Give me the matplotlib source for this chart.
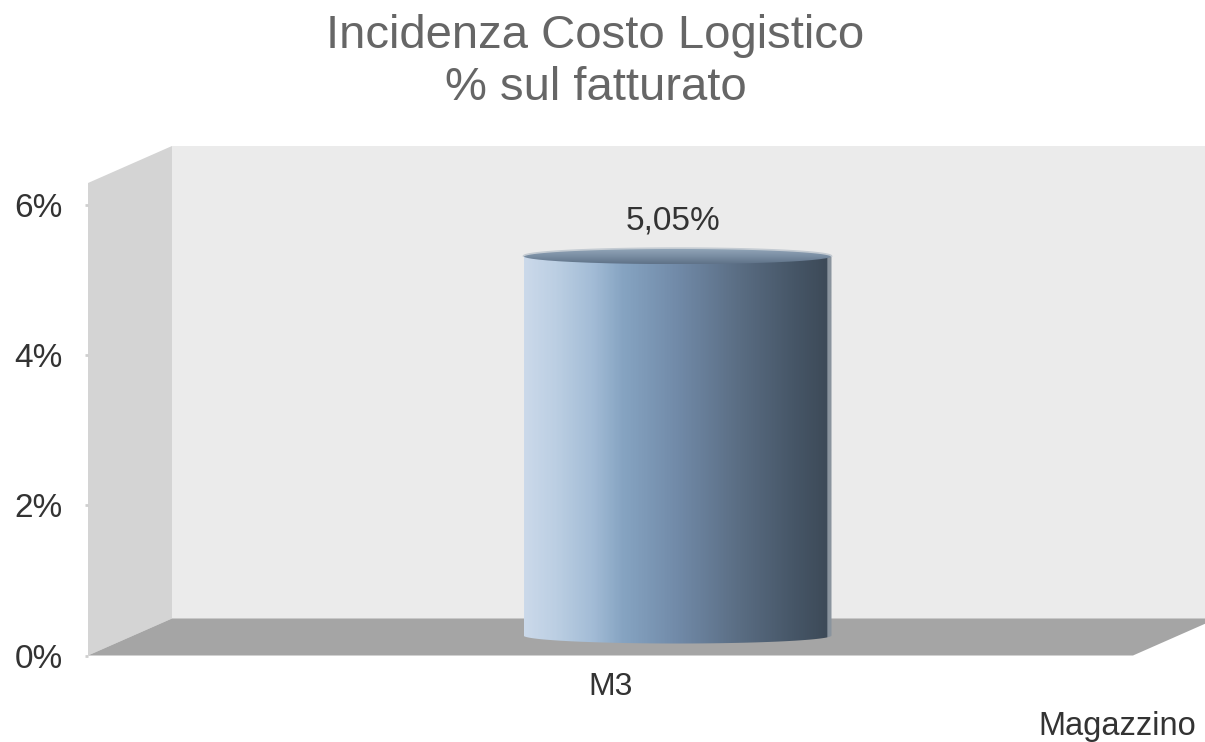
import numpy as np
import matplotlib
matplotlib.use("Agg")
import matplotlib.pyplot as plt
from matplotlib.colors import LinearSegmentedColormap
from matplotlib.patches import PathPatch, Polygon
from matplotlib.path import Path
from matplotlib.transforms import Affine2D

title = "Incidenza Costo Logistico\n% sul fatturato"
categories = ["M3"]
values = [5.05]
value_labels = ["5,05%"]
y_ticks = [0, 2, 4, 6]
y_tick_labels = ["0%", "2%", "4%", "6%"]
x_title = "Magazzino"

W, H = 1205, 742
plt.rcParams["font.family"] = ["Liberation Sans", "DejaVu Sans"]
fig = plt.figure(figsize=(W / 100, H / 100), dpi=100, facecolor="white")
ax = fig.add_axes([88 / W, 1 - 655.5 / H, 1045 / W, 472.5 / H])
ax.set_xlim(-0.5, 0.5)
ax.set_ylim(0, 6.29)
for s in ax.spines.values():
    s.set_visible(False)
ax.patch.set_visible(False)

back = ax.transData + Affine2D().translate(84, 37)
bar_plane = ax.transData + Affine2D().translate(67, 20)
ymax = 6.29
ax.add_patch(Polygon([(-0.5, 0), (0.5, 0), (0.5, ymax), (-0.5, ymax)], transform=back,
                     fc="#ebebeb", ec="none", clip_on=False, zorder=1))
# left wall and floor join the front plane to the back plane
p = lambda x, y, t: t.transform((x, y))
pix = Affine2D()  # identity: pixel space
ax.add_patch(Polygon([p(-0.5, 0, ax.transData), p(-0.5, ymax, ax.transData),
                      p(-0.5, ymax, back), p(-0.5, 0, back)], transform=pix,
                     fc="#d4d4d4", ec="none", clip_on=False, zorder=1))
ax.add_patch(Polygon([p(-0.5, 0, ax.transData), p(0.5, 0, ax.transData),
                      p(0.5, 0, back), p(-0.5, 0, back)], transform=pix,
                     fc="#a5a5a5", ec="none", clip_on=False, zorder=1))

# cylinder
bar_w = 308 / 1045
ell_b = 8 / (472.5 / 6.29)
body_cmap = LinearSegmentedColormap.from_list("body", [
    (0.00, "#cbd9ea"), (0.10, "#bccfe3"), (0.22, "#a3bcd6"), (0.32, "#86a4c2"),
    (0.50, "#718aa8"), (0.70, "#5a6d83"), (0.88, "#465667"), (0.985, "#3d4a58"),
    (0.99, "#8a949e"), (1.00, "#8a949e")])
top_cmap = LinearSegmentedColormap.from_list("top", ["#5f7288", "#7a8ea3", "#93a6b9"])
grad = np.linspace(0, 1, 310).reshape(1, -1)
vgrad = np.linspace(1, 0, 40).reshape(-1, 1)
t = np.linspace(np.pi, 2 * np.pi, 80)
for i, v in enumerate(values):
    xs = i + bar_w / 2 * np.cos(t)
    ys = ell_b * np.sin(t)
    verts = list(zip(xs, ys)) + [(i + bar_w / 2, v), (i - bar_w / 2, v), (i - bar_w / 2, 0)]
    clip = PathPatch(Path(verts, closed=False), transform=bar_plane, fc="none", ec="none")
    ax.add_patch(clip)
    im = ax.imshow(grad, cmap=body_cmap, aspect="auto", transform=bar_plane,
                   extent=(i - bar_w / 2, i + bar_w / 2, -ell_b, v), zorder=3)
    im.set_clip_path(clip)
    th = np.linspace(0, 2 * np.pi, 160)
    ex, ey = i + bar_w / 2 * np.cos(th), v + ell_b * np.sin(th)
    top = PathPatch(Path(np.column_stack([ex, ey])), transform=bar_plane, fc="none", ec="none")
    ax.add_patch(top)
    im2 = ax.imshow(vgrad, cmap=top_cmap, aspect="auto", transform=bar_plane,
                    extent=(i - bar_w / 2, i + bar_w / 2, v - ell_b, v + ell_b), zorder=4)
    im2.set_clip_path(top)
    ax.plot(ex[:80], ey[:80], transform=bar_plane, color="#c4cbd2",
            lw=1.2, zorder=5, clip_on=False)
    ax.annotate(value_labels[i], xy=(i, v), xycoords=bar_plane, xytext=(-3, 25.5),
                textcoords="offset points", ha="center", va="center",
                fontsize=24, color="#333333", zorder=6)
ax.set_xlim(-0.5, 0.5)
ax.set_ylim(0, ymax)

ax.set_xticks(range(len(categories)), categories)
ax.set_yticks(y_ticks, y_tick_labels)
ax.tick_params(axis="x", length=0, pad=12, labelsize=23, labelcolor="#333333")
ax.tick_params(axis="y", length=2.2, width=2, color="#cfcfcf", pad=16, labelsize=24,
               labelcolor="#333333")
ax.set_xlabel(x_title, fontsize=23.5, color="#333333", ha="right")
ax.xaxis.set_label_coords((1196 - 88) / 1045, -(727 - 655.5) / 472.5)
ax.xaxis.label.set_va("center")

fig.text(595.5 / W, 1 - 62 / H, title, ha="center", va="center", fontsize=34,
         color="#666666", linespacing=1.24)
fig.savefig("out.png", dpi=100, facecolor="white")
